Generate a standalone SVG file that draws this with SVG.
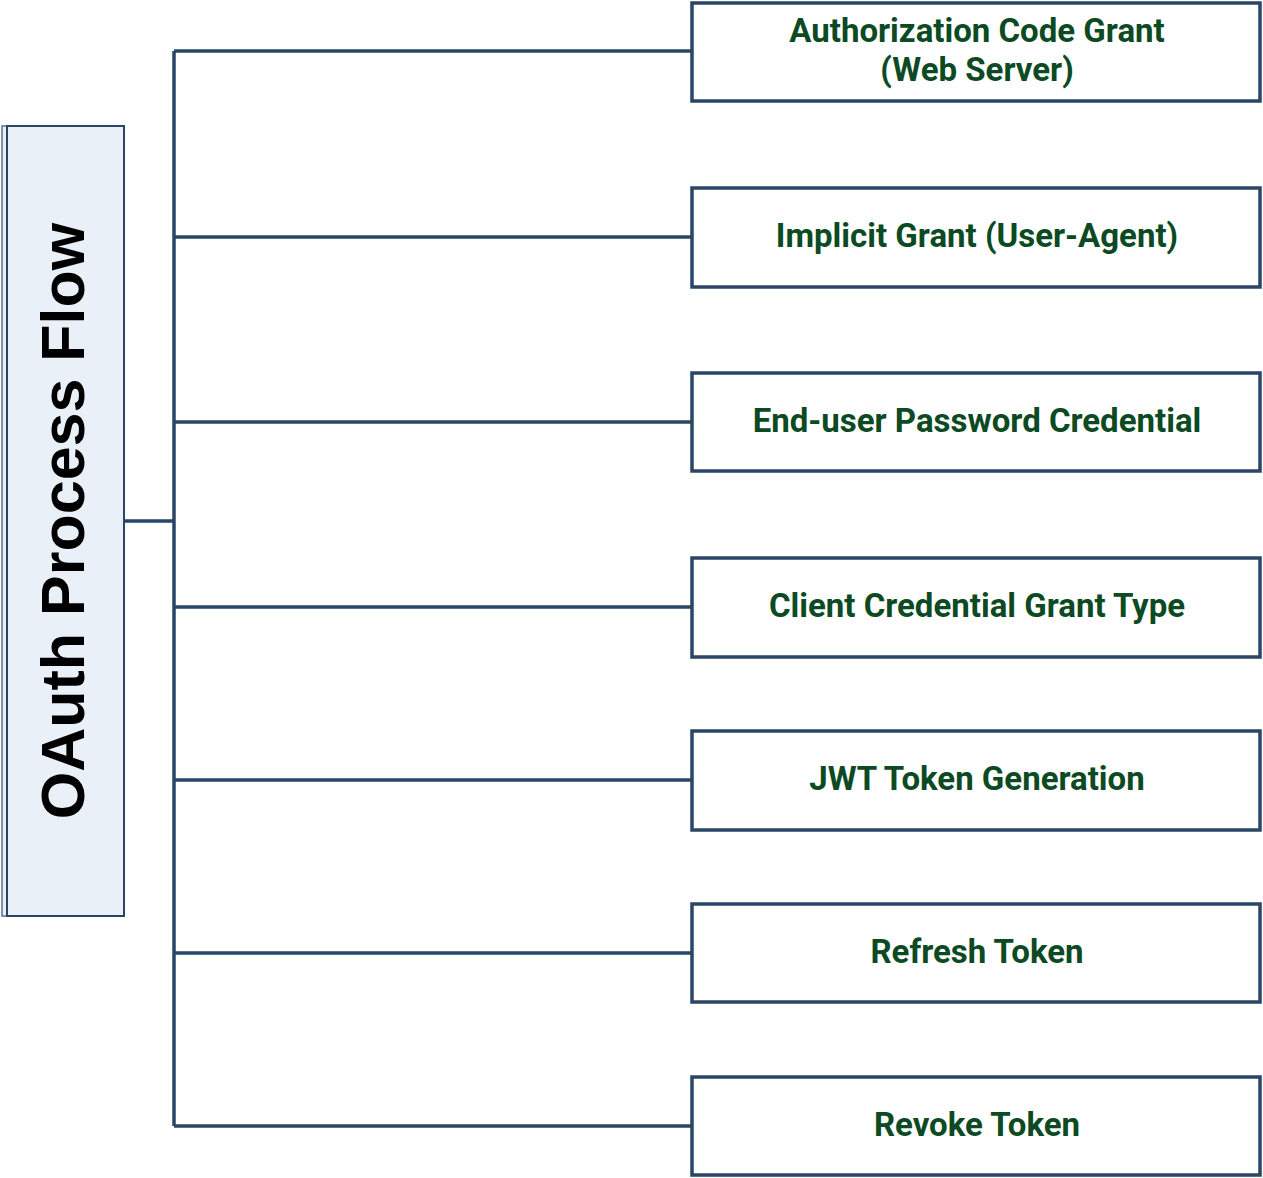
<svg xmlns="http://www.w3.org/2000/svg" width="1263" height="1178" viewBox="0 0 1263 1178">
<style>
.box{fill:#ffffff;stroke:#2a4567;stroke-width:3.5}
.lbl{font-family:Roboto,"Liberation Sans",sans-serif;font-weight:bold;font-size:33px;fill:#0b4a22;text-anchor:middle}
.conn{stroke:#2a4567;stroke-width:3.5;fill:none}
</style>
<rect width="1263" height="1178" fill="#ffffff"/>
<g id="connectors">
<path class="conn" d="M124 521H174M174 51V1126M174 51H692M174 237H692M174 422H692M174 607H692M174 780H692M174 953H692M174 1126H692"/>
</g>
<g id="root">
<rect x="2" y="126" width="122" height="790" fill="#eaf0f8" stroke="#5a7290" stroke-width="1.5"/>
<rect x="7" y="126" width="117" height="790" fill="#eaf0f8" stroke="#2a4567" stroke-width="2"/>
<text transform="translate(84 521) rotate(-90)" text-anchor="middle" font-family="'Liberation Sans',Arial,sans-serif" font-weight="bold" font-size="61" fill="#000000">OAuth Process Flow</text>
</g>
<g id="n1"><rect class="box" x="692" y="3" width="568" height="98"/><text class="lbl" x="977" y="42">Authorization Code Grant</text><text class="lbl" x="977" y="81">(Web Server)</text></g>
<g id="n2"><rect class="box" x="692" y="188" width="568" height="99"/><text class="lbl" x="977" y="247">Implicit Grant (User-Agent)</text></g>
<g id="n3"><rect class="box" x="692" y="373" width="568" height="98"/><text class="lbl" x="977" y="432">End-user Password Credential</text></g>
<g id="n4"><rect class="box" x="692" y="558" width="568" height="99"/><text class="lbl" x="977" y="617">Client Credential Grant Type</text></g>
<g id="n5"><rect class="box" x="692" y="731" width="568" height="99"/><text class="lbl" x="977" y="790">JWT Token Generation</text></g>
<g id="n6"><rect class="box" x="692" y="904" width="568" height="98"/><text class="lbl" x="977" y="963">Refresh Token</text></g>
<g id="n7"><rect class="box" x="692" y="1077" width="568" height="98"/><text class="lbl" x="977" y="1136">Revoke Token</text></g>
</svg>
